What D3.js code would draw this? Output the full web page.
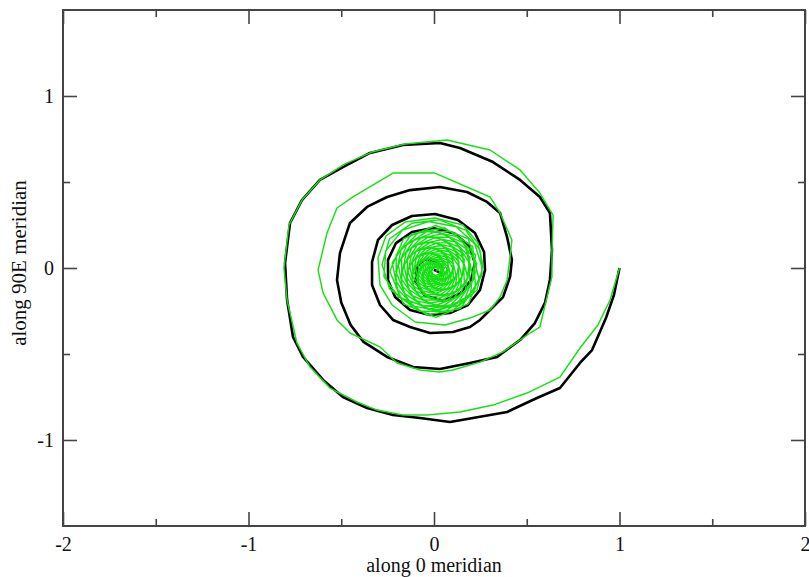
<!DOCTYPE html>
<html>
<head>
<meta charset="utf-8">
<script src="https://cdn.jsdelivr.net/npm/d3@7"></script>
<style>
  body { margin: 0; background: #fff; }
  svg { display: block; }
  .tick text { font-family: "Liberation Serif", "DejaVu Serif", serif; }
</style>
</head>
<body>
<div id="app"></div>
<script>
// axis ranges and ticks
var xDomain = [-2, 2];
var yDomain = [-1.5, 1.5];
var xMajor = [-2, -1, 0, 1, 2];
var yMajor = [-1, 0, 1];
var xMinor = [-1.5, -0.5, 0.5, 1.5];
var yMinor = [-0.5, 0.5];
var xTitle = 'along 0 meridian';
var yTitle = 'along 90E meridian';

// black trajectory (x, y)
var blackX = [1.0, 0.97, 0.927, 0.852, 0.787, 0.679, 0.555, 0.394, 0.21, 0.086, -0.075, -0.221, -0.361, -0.491, -0.598, -0.706, -0.76, -0.792, -0.803, -0.776, -0.712, -0.615, -0.491, -0.345, -0.167, 0.032, 0.14, 0.318, 0.464, 0.571, 0.625, 0.636, 0.625, 0.598, 0.544, 0.464, 0.34, 0.194, 0.032, -0.113, -0.253, -0.38, -0.45, -0.50, -0.523, -0.507, -0.453, -0.361, -0.253, -0.129, 0.032, 0.178, 0.286, 0.356, 0.394, 0.42, 0.41, 0.372, 0.302, 0.248, 0.194, 0.102, -0.022, -0.129, -0.221, -0.291, -0.334, -0.334, -0.302, -0.226, -0.119, 0.005, 0.129, 0.221, 0.27, 0.275, 0.248, 0.183, 0.086, -0.022, -0.129, -0.21, -0.248, -0.248, -0.205, -0.119, -0.005, 0.11, 0.19, 0.22, 0.2, 0.14, 0.05, -0.05, -0.10, -0.09, -0.05, 0.01, 0.05, 0.04, 0.0];
var blackY = [0.0, -0.157, -0.291, -0.477, -0.552, -0.698, -0.756, -0.837, -0.872, -0.895, -0.872, -0.855, -0.814, -0.75, -0.651, -0.517, -0.401, -0.186, 0.029, 0.262, 0.395, 0.512, 0.587, 0.669, 0.715, 0.727, 0.698, 0.616, 0.512, 0.413, 0.32, 0.105, -0.07, -0.203, -0.32, -0.419, -0.517, -0.552, -0.587, -0.576, -0.517, -0.43, -0.33, -0.20, -0.07, 0.087, 0.262, 0.355, 0.413, 0.453, 0.471, 0.442, 0.384, 0.32, 0.18, 0.047, -0.052, -0.169, -0.244, -0.302, -0.343, -0.372, -0.378, -0.343, -0.302, -0.215, -0.099, 0.035, 0.163, 0.25, 0.302, 0.314, 0.279, 0.203, 0.093, -0.012, -0.128, -0.215, -0.262, -0.273, -0.244, -0.169, -0.07, 0.047, 0.145, 0.209, 0.233, 0.2, 0.13, 0.03, -0.07, -0.15, -0.19, -0.16, -0.08, 0.01, 0.05, 0.04, 0.0, -0.03, -0.01];

// green trajectory (x, y): outer loops, then the tight cluster near the origin
var greenX = [1.0, 0.949, 0.884, 0.787, 0.679, 0.501, 0.318, 0.14, -0.038, -0.167, -0.307, -0.415, -0.561, -0.668, -0.739, -0.792, -0.809, -0.782, -0.712, -0.615, -0.48, -0.334, -0.156, 0.07, 0.302, 0.464, 0.571, 0.642, 0.636, 0.636, 0.609, 0.571, 0.518, 0.372, 0.248, 0.102, 0.032, -0.075, -0.199, -0.291, -0.453, -0.523, -0.598, -0.625, -0.577, -0.523, -0.437, -0.221, 0.005, 0.302, 0.356, 0.42, 0.41, 0.394, 0.356, 0.302, 0.194, 0.059, -0.102, -0.226, -0.291, -0.302, -0.259, -0.156, 0.005, 0.156, 0.237, 0.264, 0.232, 0.14, 0.005,
  -0.12, -0.24, -0.28, -0.24, -0.12, 0.03, 0.17, 0.25, 0.26, 0.19, 0.07,
  -0.06, -0.19, -0.27, -0.26, -0.17, -0.03, 0.12, 0.22, 0.26,
  0.258, 0.185, 0.01, -0.165, -0.238, -0.165, 0.01, 0.185,
  0.245, 0.143, -0.037, -0.189, -0.225, -0.123, 0.057, 0.209,
  0.224, 0.099, -0.079, -0.204, -0.204, -0.079, 0.099, 0.224,
  0.196, 0.054, -0.115, -0.210, -0.176, -0.034, 0.135, 0.230,
  0.226, 0.163, 0.01, -0.143, -0.206, -0.143, 0.01, 0.163,
  0.214, 0.126, -0.031, -0.163, -0.194, -0.106, 0.051, 0.183,
  0.194, 0.086, -0.066, -0.174, -0.174, -0.066, 0.086, 0.194,
  0.169, 0.047, -0.096, -0.177, -0.149, -0.027, 0.116, 0.197,
  0.193, 0.139, 0.01, -0.119, -0.173, -0.119, 0.01, 0.139,
  0.182, 0.107, -0.024, -0.135, -0.162, -0.087, 0.044, 0.155,
  0.164, 0.074, -0.054, -0.144, -0.144, -0.054, 0.074, 0.164,
  0.142, 0.041, -0.078, -0.146, -0.122, -0.021, 0.098, 0.166,
  0.161, 0.117, 0.01, -0.097, -0.141, -0.097, 0.01, 0.117,
  0.150, 0.090, -0.018, -0.109, -0.130, -0.070, 0.038, 0.129,
  0.135, 0.062, -0.042, -0.115, -0.115, -0.042, 0.062, 0.135,
  0.116, 0.035, -0.061, -0.115, -0.096, -0.015, 0.081, 0.135,
  0.129, 0.094, 0.01, -0.074, -0.109, -0.074, 0.01, 0.094,
  0.119, 0.072, -0.012, -0.082, -0.099, -0.052, 0.032, 0.102,
  0.104, 0.049, -0.029, -0.084, -0.084, -0.029, 0.049, 0.104,
  0.088, 0.028, -0.042, -0.082, -0.068, -0.008, 0.062, 0.102,
  0.096, 0.071, 0.01, -0.051, -0.076, -0.051, 0.01, 0.071,
  0.087, 0.053, -0.005, -0.055, -0.067, -0.033, 0.025, 0.075,
  0.075, 0.037, -0.017, -0.055, -0.055, -0.017, 0.037, 0.075,
  0.062, 0.022, -0.024, -0.051, -0.042, -0.002, 0.044, 0.071,
  0.064, 0.048, 0.01, -0.028, -0.044, -0.028, 0.01, 0.048,
  0.055, 0.036, 0.001, -0.028, -0.035, -0.016, 0.019, 0.048,
  0.045, 0.025, -0.005, -0.025, -0.025, -0.005, 0.025, 0.045,
  0.035, 0.016, -0.007, -0.019, -0.015, 0.004, 0.027, 0.039,
  0.032, 0.026, 0.01, -0.006, -0.012, -0.006, 0.01, 0.026, 0.01];
var greenY = [0.0, -0.186, -0.331, -0.465, -0.634, -0.727, -0.797, -0.837, -0.855, -0.855, -0.826, -0.779, -0.698, -0.576, -0.436, -0.186, 0.0, 0.25, 0.395, 0.512, 0.605, 0.674, 0.721, 0.744, 0.686, 0.57, 0.436, 0.308, 0.087, -0.052, -0.169, -0.343, -0.378, -0.488, -0.547, -0.593, -0.605, -0.593, -0.552, -0.459, -0.378, -0.302, -0.145, -0.012, 0.203, 0.349, 0.413, 0.552, 0.552, 0.413, 0.32, 0.163, 0.064, -0.07, -0.169, -0.244, -0.291, -0.331, -0.314, -0.215, -0.099, 0.058, 0.186, 0.267, 0.291, 0.25, 0.145, 0.017, -0.128, -0.215, -0.244,
  -0.22, -0.12, 0.02, 0.17, 0.26, 0.28, 0.22, 0.10, -0.04, -0.16, -0.23,
  -0.22, -0.17, -0.05, 0.10, 0.22, 0.27, 0.24, 0.14, 0.00,
  -0.02, -0.209, -0.287, -0.209, -0.02, 0.169, 0.247, 0.169,
  -0.071, -0.235, -0.274, -0.164, 0.031, 0.195, 0.234, 0.124,
  -0.116, -0.251, -0.251, -0.116, 0.076, 0.211, 0.211, 0.076,
  -0.154, -0.256, -0.220, -0.067, 0.114, 0.216, 0.180, 0.027,
  -0.02, -0.185, -0.253, -0.185, -0.02, 0.145, 0.213, 0.145,
  -0.064, -0.206, -0.240, -0.145, 0.024, 0.166, 0.200, 0.105,
  -0.102, -0.219, -0.219, -0.102, 0.062, 0.179, 0.179, 0.062,
  -0.135, -0.222, -0.191, -0.060, 0.095, 0.182, 0.151, 0.020,
  -0.02, -0.160, -0.218, -0.160, -0.02, 0.120, 0.178, 0.120,
  -0.057, -0.177, -0.205, -0.125, 0.017, 0.137, 0.165, 0.085,
  -0.089, -0.186, -0.186, -0.089, 0.049, 0.146, 0.146, 0.049,
  -0.116, -0.189, -0.163, -0.054, 0.076, 0.149, 0.123, 0.014,
  -0.02, -0.135, -0.183, -0.135, -0.02, 0.095, 0.143, 0.095,
  -0.050, -0.148, -0.171, -0.106, 0.010, 0.108, 0.131, 0.066,
  -0.076, -0.154, -0.154, -0.076, 0.036, 0.114, 0.114, 0.036,
  -0.096, -0.154, -0.134, -0.047, 0.056, 0.114, 0.094, 0.007,
  -0.02, -0.110, -0.148, -0.110, -0.02, 0.070, 0.108, 0.070,
  -0.043, -0.119, -0.137, -0.086, 0.003, 0.079, 0.097, 0.046,
  -0.062, -0.122, -0.122, -0.062, 0.022, 0.082, 0.082, 0.022,
  -0.077, -0.120, -0.105, -0.040, 0.037, 0.080, 0.065, 0.000,
  -0.02, -0.086, -0.113, -0.086, -0.02, 0.046, 0.073, 0.046,
  -0.036, -0.090, -0.102, -0.067, -0.004, 0.050, 0.062, 0.027,
  -0.049, -0.090, -0.090, -0.049, 0.009, 0.050, 0.050, 0.009,
  -0.057, -0.086, -0.076, -0.033, 0.017, 0.046, 0.036, -0.007,
  -0.02, -0.061, -0.078, -0.061, -0.02, 0.021, 0.038, 0.021,
  -0.030, -0.061, -0.068, -0.047, -0.010, 0.021, 0.028, 0.007,
  -0.036, -0.058, -0.058, -0.036, -0.004, 0.018, 0.018, -0.004,
  -0.038, -0.051, -0.047, -0.026, -0.002, 0.011, 0.007, -0.014,
  -0.02, -0.036, -0.043, -0.036, -0.02, -0.004, 0.003, -0.004, -0.02];

var width = 809, height = 577;
var padL = 63, padR = 805, padT = 10, padB = 526;

var svg = d3.select('#app').append('svg')
            .attr('width', width)
            .attr('height', height);

var x = d3.scaleLinear().domain(xDomain).range([padL, padR]);
var y = d3.scaleLinear().domain(yDomain).range([padB, padT]);

var line = d3.line()
             .x(function(d) { return x(d[0]); })
             .y(function(d) { return y(d[1]); });

var blackPts = blackX.map(function(v, i) { return [v, blackY[i]]; });
var greenPts = greenX.map(function(v, i) { return [v, greenY[i]]; });

svg.append('path')
   .datum(blackPts)
   .attr('d', line)
   .attr('fill', 'none')
   .attr('stroke', '#000')
   .attr('stroke-width', 2.6)
   .attr('stroke-linejoin', 'round');

svg.append('path')
   .datum(greenPts)
   .attr('d', line)
   .attr('fill', 'none')
   .attr('stroke', '#14e014')
   .attr('stroke-width', 1.45)
   .attr('stroke-linejoin', 'round');

// axes: major ticks inward on all four sides, minor ticks between
var axisColor = '#444';
function drawAxis(axisFn, scale, vals, len, transform, labels) {
  var g = svg.append('g')
             .attr('transform', transform)
             .call(axisFn(scale).tickValues(vals).tickSize(-len).tickSizeOuter(0)
                   .tickFormat(labels ? d3.format('d') : ''));
  g.select('.domain').remove();
  g.selectAll('.tick line').attr('stroke', axisColor).attr('stroke-width', 1.6);
  g.selectAll('.tick text').attr('fill', '#111').style('font-size', '20px');
  return g;
}

var xb = drawAxis(d3.axisBottom, x, xMajor, 14, 'translate(0,' + padB + ')', true);
xb.selectAll('.tick text').attr('y', 11).attr('dy', '0.71em')
  .text(function(d) { return d < 0 ? '-' + Math.abs(d) : d; });
drawAxis(d3.axisBottom, x, xMinor, 7, 'translate(0,' + padB + ')', false);
drawAxis(d3.axisTop, x, xMajor, 14, 'translate(0,' + padT + ')', false);
drawAxis(d3.axisTop, x, xMinor, 7, 'translate(0,' + padT + ')', false);

var yl = drawAxis(d3.axisLeft, y, yMajor, 14, 'translate(' + padL + ',0)', true);
yl.selectAll('.tick text').attr('x', -9)
  .text(function(d) { return d < 0 ? '-' + Math.abs(d) : d; });
drawAxis(d3.axisLeft, y, yMinor, 7, 'translate(' + padL + ',0)', false);
drawAxis(d3.axisRight, y, yMajor, 14, 'translate(' + padR + ',0)', false);
drawAxis(d3.axisRight, y, yMinor, 7, 'translate(' + padR + ',0)', false);

svg.append('rect')
   .attr('x', padL)
   .attr('y', padT)
   .attr('width', padR - padL)
   .attr('height', padB - padT)
   .attr('fill', 'none')
   .attr('stroke', axisColor)
   .attr('stroke-width', 2);

svg.append('text')
   .attr('x', (padL + padR) / 2)
   .attr('y', 572)
   .attr('text-anchor', 'middle')
   .style('font-family', '"Liberation Serif", serif')
   .style('font-size', '20px')
   .attr('fill', '#111')
   .text(xTitle);

svg.append('text')
   .attr('transform', 'translate(26,263) rotate(-90)')
   .attr('text-anchor', 'middle')
   .style('font-family', '"Liberation Serif", serif')
   .style('font-size', '21px')
   .attr('fill', '#111')
   .text(yTitle);
</script>
</body>
</html>
